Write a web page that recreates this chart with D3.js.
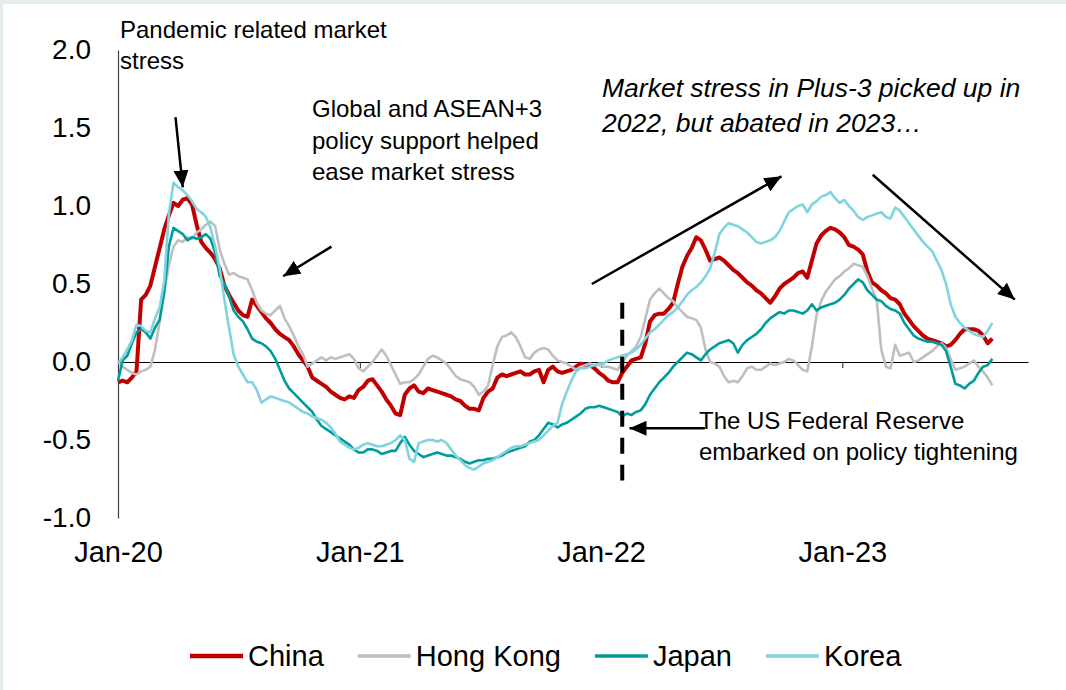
<!DOCTYPE html>
<html>
<head>
<meta charset="utf-8">
<script src="https://cdn.jsdelivr.net/npm/d3@7"></script>
<style>
  html, body { margin: 0; padding: 0; background: #e6eeeb; }
  svg { display: block; }
  text { font-family: "Liberation Sans", Arial, sans-serif; fill: #000; }
</style>
</head>
<body>
<svg id="chart" width="1066" height="690"></svg>
<script>
// Weekly market stress index, starting 1 Jan 2020
const startDate = new Date(2020, 0, 1);

const chinaValues = [
  -0.13,-0.12,-0.13,-0.10,-0.06,0.40,0.43,0.49,0.61,0.73,
  0.85,0.94,1.02,1.00,1.04,1.05,1.01,0.88,0.77,0.73,
  0.70,0.66,0.60,0.49,0.43,0.38,0.33,0.30,0.29,0.40,
  0.36,0.32,0.28,0.25,0.21,0.18,0.16,0.14,0.10,0.05,
  0.01,-0.03,-0.10,-0.12,-0.14,-0.16,-0.19,-0.21,-0.23,-0.24,
  -0.22,-0.23,-0.18,-0.16,-0.12,-0.11,-0.15,-0.19,-0.24,-0.28,
  -0.33,-0.34,-0.21,-0.17,-0.15,-0.19,-0.20,-0.17,-0.18,-0.19,
  -0.20,-0.21,-0.22,-0.24,-0.25,-0.28,-0.30,-0.30,-0.31,-0.23,
  -0.19,-0.17,-0.10,-0.08,-0.09,-0.08,-0.07,-0.06,-0.08,-0.08,
  -0.06,-0.05,-0.13,-0.05,-0.03,-0.06,-0.07,-0.06,-0.05,-0.03,
  -0.01,-0.02,-0.02,-0.04,-0.07,-0.09,-0.12,-0.13,-0.13,-0.07,
  -0.03,0.01,0.02,0.03,0.12,0.26,0.30,0.31,0.31,0.34,
  0.38,0.50,0.61,0.68,0.73,0.80,0.78,0.72,0.65,0.66,
  0.67,0.65,0.62,0.59,0.57,0.54,0.51,0.49,0.46,0.44,
  0.41,0.38,0.42,0.47,0.50,0.52,0.54,0.57,0.58,0.54,
  0.65,0.76,0.81,0.84,0.86,0.85,0.83,0.80,0.75,0.74,
  0.72,0.69,0.58,0.51,0.49,0.46,0.44,0.41,0.40,0.37,
  0.31,0.27,0.23,0.20,0.17,0.15,0.14,0.13,0.12,0.10,
  0.11,0.14,0.18,0.21,0.21,0.21,0.20,0.17,0.12,0.15
];

const hongKongValues = [
  0.00,-0.03,-0.05,-0.07,-0.08,-0.06,-0.05,-0.03,0.08,0.26,
  0.45,0.62,0.74,0.78,0.77,0.80,0.79,0.83,0.85,0.88,
  0.90,0.87,0.72,0.63,0.56,0.57,0.55,0.54,0.53,0.46,
  0.38,0.33,0.31,0.30,0.33,0.36,0.28,0.23,0.17,0.10,
  0.05,-0.03,-0.01,0.01,0.03,0.01,0.03,0.02,0.03,0.04,
  0.05,0.02,-0.04,-0.06,-0.03,0.00,0.04,0.08,0.04,-0.02,
  -0.08,-0.14,-0.13,-0.13,-0.11,-0.08,-0.03,0.02,0.04,0.03,
  0.01,-0.01,-0.05,-0.09,-0.11,-0.12,-0.13,-0.16,-0.21,-0.19,
  -0.15,-0.02,0.10,0.16,0.17,0.19,0.16,0.10,0.03,0.02,
  0.06,0.08,0.09,0.08,0.04,0.01,0.00,-0.01,-0.03,-0.05,
  -0.03,-0.02,-0.01,-0.02,-0.02,-0.03,-0.03,-0.04,-0.05,0.00,
  0.04,0.07,0.10,0.16,0.28,0.40,0.44,0.47,0.44,0.41,
  0.39,0.35,0.32,0.29,0.28,0.27,0.22,0.08,0.00,-0.01,
  -0.03,-0.09,-0.13,-0.12,-0.13,-0.09,-0.04,-0.03,-0.05,-0.05,
  -0.03,-0.01,-0.02,-0.01,0.00,0.02,0.01,-0.02,-0.05,-0.06,
  0.10,0.30,0.39,0.45,0.49,0.53,0.55,0.58,0.60,0.63,
  0.62,0.61,0.55,0.47,0.40,0.08,-0.03,-0.04,0.11,0.04,
  0.05,0.06,0.00,0.01,0.03,0.05,0.07,0.10,0.12,0.09,
  0.02,-0.05,-0.04,-0.03,-0.01,0.01,-0.03,-0.06,-0.10,-0.15
];

const japanValues = [
  -0.12,0.01,0.04,0.12,0.19,0.21,0.19,0.15,0.22,0.27,
  0.45,0.74,0.86,0.84,0.82,0.78,0.80,0.79,0.80,0.82,
  0.79,0.70,0.55,0.50,0.42,0.33,0.29,0.26,0.21,0.15,
  0.13,0.12,0.10,0.07,0.02,-0.05,-0.12,-0.17,-0.20,-0.23,
  -0.26,-0.29,-0.32,-0.37,-0.41,-0.43,-0.45,-0.47,-0.49,-0.51,
  -0.53,-0.56,-0.58,-0.58,-0.56,-0.56,-0.57,-0.59,-0.58,-0.57,
  -0.57,-0.52,-0.48,-0.53,-0.57,-0.59,-0.61,-0.60,-0.59,-0.58,
  -0.59,-0.60,-0.60,-0.61,-0.62,-0.64,-0.65,-0.64,-0.63,-0.63,
  -0.62,-0.62,-0.61,-0.60,-0.58,-0.57,-0.56,-0.55,-0.54,-0.51,
  -0.50,-0.47,-0.43,-0.39,-0.40,-0.42,-0.40,-0.39,-0.37,-0.35,
  -0.33,-0.30,-0.29,-0.29,-0.28,-0.29,-0.30,-0.31,-0.32,-0.35,
  -0.33,-0.34,-0.32,-0.31,-0.27,-0.21,-0.17,-0.13,-0.10,-0.07,
  -0.03,0.00,0.03,0.06,0.05,0.03,0.01,0.05,0.08,0.10,
  0.12,0.13,0.14,0.12,0.06,0.11,0.14,0.16,0.18,0.21,
  0.25,0.28,0.30,0.32,0.31,0.33,0.33,0.32,0.31,0.33,
  0.37,0.33,0.35,0.36,0.37,0.38,0.40,0.43,0.47,0.50,
  0.53,0.51,0.46,0.43,0.40,0.39,0.36,0.34,0.33,0.31,
  0.25,0.21,0.17,0.15,0.14,0.13,0.13,0.12,0.11,0.07,
  -0.03,-0.14,-0.15,-0.17,-0.14,-0.12,-0.07,-0.03,-0.02,0.02
];

const koreaValues = [
  -0.01,0.03,0.08,0.14,0.24,0.23,0.20,0.19,0.28,0.35,
  0.52,0.95,1.15,1.12,1.10,1.07,1.03,0.98,0.96,0.93,
  0.86,0.74,0.60,0.40,0.22,0.05,-0.03,-0.08,-0.13,-0.13,
  -0.18,-0.26,-0.24,-0.22,-0.23,-0.24,-0.25,-0.26,-0.28,-0.30,
  -0.32,-0.33,-0.35,-0.36,-0.37,-0.39,-0.42,-0.46,-0.51,-0.53,
  -0.55,-0.56,-0.55,-0.53,-0.52,-0.53,-0.54,-0.54,-0.53,-0.52,
  -0.50,-0.47,-0.50,-0.62,-0.64,-0.52,-0.51,-0.50,-0.50,-0.51,
  -0.50,-0.52,-0.56,-0.60,-0.63,-0.66,-0.68,-0.69,-0.67,-0.65,
  -0.64,-0.63,-0.61,-0.59,-0.57,-0.55,-0.54,-0.54,-0.53,-0.52,
  -0.51,-0.50,-0.47,-0.44,-0.41,-0.39,-0.27,-0.19,-0.12,-0.06,
  -0.04,-0.04,-0.03,-0.02,-0.01,-0.01,0.01,0.02,0.03,0.04,
  0.05,0.06,0.08,0.11,0.15,0.19,0.21,0.24,0.27,0.30,
  0.32,0.35,0.39,0.43,0.46,0.48,0.51,0.55,0.60,0.70,
  0.82,0.86,0.89,0.88,0.87,0.85,0.83,0.80,0.77,0.76,
  0.77,0.78,0.80,0.84,0.90,0.96,0.98,1.00,1.01,0.96,
  1.01,1.03,1.06,1.07,1.09,1.05,1.02,1.04,1.00,0.97,
  0.93,0.91,0.93,0.94,0.95,0.96,0.93,0.92,0.99,0.97,
  0.93,0.89,0.85,0.81,0.77,0.74,0.71,0.65,0.59,0.50,
  0.37,0.29,0.25,0.22,0.20,0.18,0.17,0.16,0.20,0.25
];

const seriesNames = ["China", "Hong Kong", "Japan", "Korea"];
const seriesColors = ["#c00000", "#bfbfbf", "#009c9c", "#7fd4df"];
const seriesWidths = [4, 2.6, 2.6, 2.6];

const yTickValues = [-1.0, -0.5, 0.0, 0.5, 1.0, 1.5, 2.0];
const xTickDates = ["2020-01-01", "2021-01-01", "2022-01-01", "2023-01-01"];

// Date the Federal Reserve began tightening, marked by the dashed line
const fedDate = "2022-02-02";

const parse = d3.timeParse("%Y-%m-%d");
const weeks = chinaValues.map((_, i) => d3.timeDay.offset(startDate, i * 7));
const allSeries = [chinaValues, hongKongValues, japanValues, koreaValues];

const svg = d3.select("#chart");

// White chart panel
svg.append("rect").attr("x", 3).attr("y", 4).attr("width", 1063).attr("height", 686).attr("fill", "#ffffff");

const x = d3.scaleTime()
  .domain([new Date(2020, 0, 1), new Date(2023, 9, 9)])
  .range([118, 1028]);
const y = d3.scaleLinear().domain([-1, 2]).range([518, 50]);

// Y axis (plain hyphen for negative labels)
const yAxis = svg.append("g")
  .attr("transform", "translate(118,0)")
  .call(d3.axisLeft(y).tickValues(yTickValues).tickFormat(d => d.toFixed(1)).tickSize(0).tickSizeOuter(0).tickPadding(27));
yAxis.select(".domain").attr("stroke", "#404040").attr("stroke-width", 1.2);
yAxis.selectAll("text").attr("font-size", 28).attr("fill", "#000")
  .style("font-family", '"Liberation Sans", Arial, sans-serif');

// Zero line with year tick marks
const zeroAxis = svg.append("g")
  .attr("transform", `translate(0,${y(0)})`)
  .call(d3.axisBottom(x).tickValues(xTickDates.map(parse)).tickFormat("").tickSize(6).tickSizeOuter(0));
zeroAxis.select(".domain").attr("stroke", "#000").attr("stroke-width", 1.2);
zeroAxis.selectAll(".tick line").attr("stroke", "#404040").attr("stroke-width", 1.2);

// Year labels below the plot
const labelAxis = svg.append("g")
  .attr("transform", "translate(0,540)")
  .call(d3.axisBottom(x).tickValues(xTickDates.map(parse)).tickFormat(d3.timeFormat("%b-%y")).tickSize(0).tickPadding(0));
labelAxis.select(".domain").remove();
labelAxis.selectAll("text").attr("font-size", 29).attr("dy", "0.75em").attr("fill", "#000")
  .style("font-family", '"Liberation Sans", Arial, sans-serif');

// Series lines
const line = d3.line()
  .x((d, i) => x(weeks[i]))
  .y(d => y(d));

svg.append("g").selectAll("path")
  .data(allSeries)
  .join("path")
  .attr("d", d => line(d))
  .attr("fill", "none")
  .attr("stroke", (d, i) => seriesColors[i])
  .attr("stroke-width", (d, i) => seriesWidths[i])
  .attr("stroke-linejoin", "round");

// Arrowhead marker
svg.append("defs").append("marker")
  .attr("id", "head")
  .attr("markerUnits", "userSpaceOnUse")
  .attr("markerWidth", 17).attr("markerHeight", 15)
  .attr("refX", 17).attr("refY", 7.5)
  .attr("orient", "auto")
  .append("path").attr("d", "M0,0 L17,7.5 L0,15 Z").attr("fill", "#000");

// Annotation arrows in data space: [from date, from value, to date, to value]
const arrows = [
  ["2020-03-28", 1.57, "2020-04-08", 1.12],
  ["2020-11-19", 0.74, "2020-09-07", 0.55],
  ["2021-12-18", 0.50, "2022-10-01", 1.19],
  ["2023-02-16", 1.20, "2023-09-19", 0.40],
  ["2022-06-07", -0.425, "2022-02-13", -0.425]
];
svg.append("g").selectAll("line")
  .data(arrows)
  .join("line")
  .attr("x1", d => x(parse(d[0]))).attr("y1", d => y(d[1]))
  .attr("x2", d => x(parse(d[2]))).attr("y2", d => y(d[3]))
  .attr("stroke", "#000").attr("stroke-width", 2.5)
  .attr("marker-end", "url(#head)");

// Dashed vertical marker for the start of Fed tightening
svg.append("line")
  .attr("x1", x(parse(fedDate))).attr("x2", x(parse(fedDate)))
  .attr("y1", y(0.38)).attr("y2", y(-0.76))
  .attr("stroke", "#000").attr("stroke-width", 4)
  .attr("stroke-dasharray", "16,11");

// Text annotations
function block(lines, x0, y0, lh, size, italic) {
  const t = svg.append("text").attr("font-size", size)
    .style("font-style", italic ? "italic" : "normal");
  lines.forEach((s, i) => t.append("tspan").attr("x", x0).attr("y", y0 + i * lh).text(s));
}
block(["Pandemic related market", "stress"], 120, 38, 30.5, 24, false);
block(["Global and ASEAN+3", "policy support helped", "ease market stress"], 312, 117, 31.5, 24, false);
block(["Market stress in Plus-3 picked up in", "2022, but abated in 2023\u2026"], 602, 97, 35, 26.5, true);
block(["The US Federal Reserve", "embarked on policy tightening"], 699, 429, 31, 24, false);

// Legend
const legend = svg.append("g");
let lx = 190;
seriesNames.forEach((name, i) => {
  legend.append("line")
    .attr("x1", lx).attr("x2", lx + 53).attr("y1", 656).attr("y2", 656)
    .attr("stroke", seriesColors[i]).attr("stroke-width", i === 0 ? 4.5 : 3.5);
  const t = legend.append("text").attr("x", lx + 58).attr("y", 666).attr("font-size", 29).text(name);
  lx += 58 + t.node().getComputedTextLength() + 34;
});
</script>
</body>
</html>
